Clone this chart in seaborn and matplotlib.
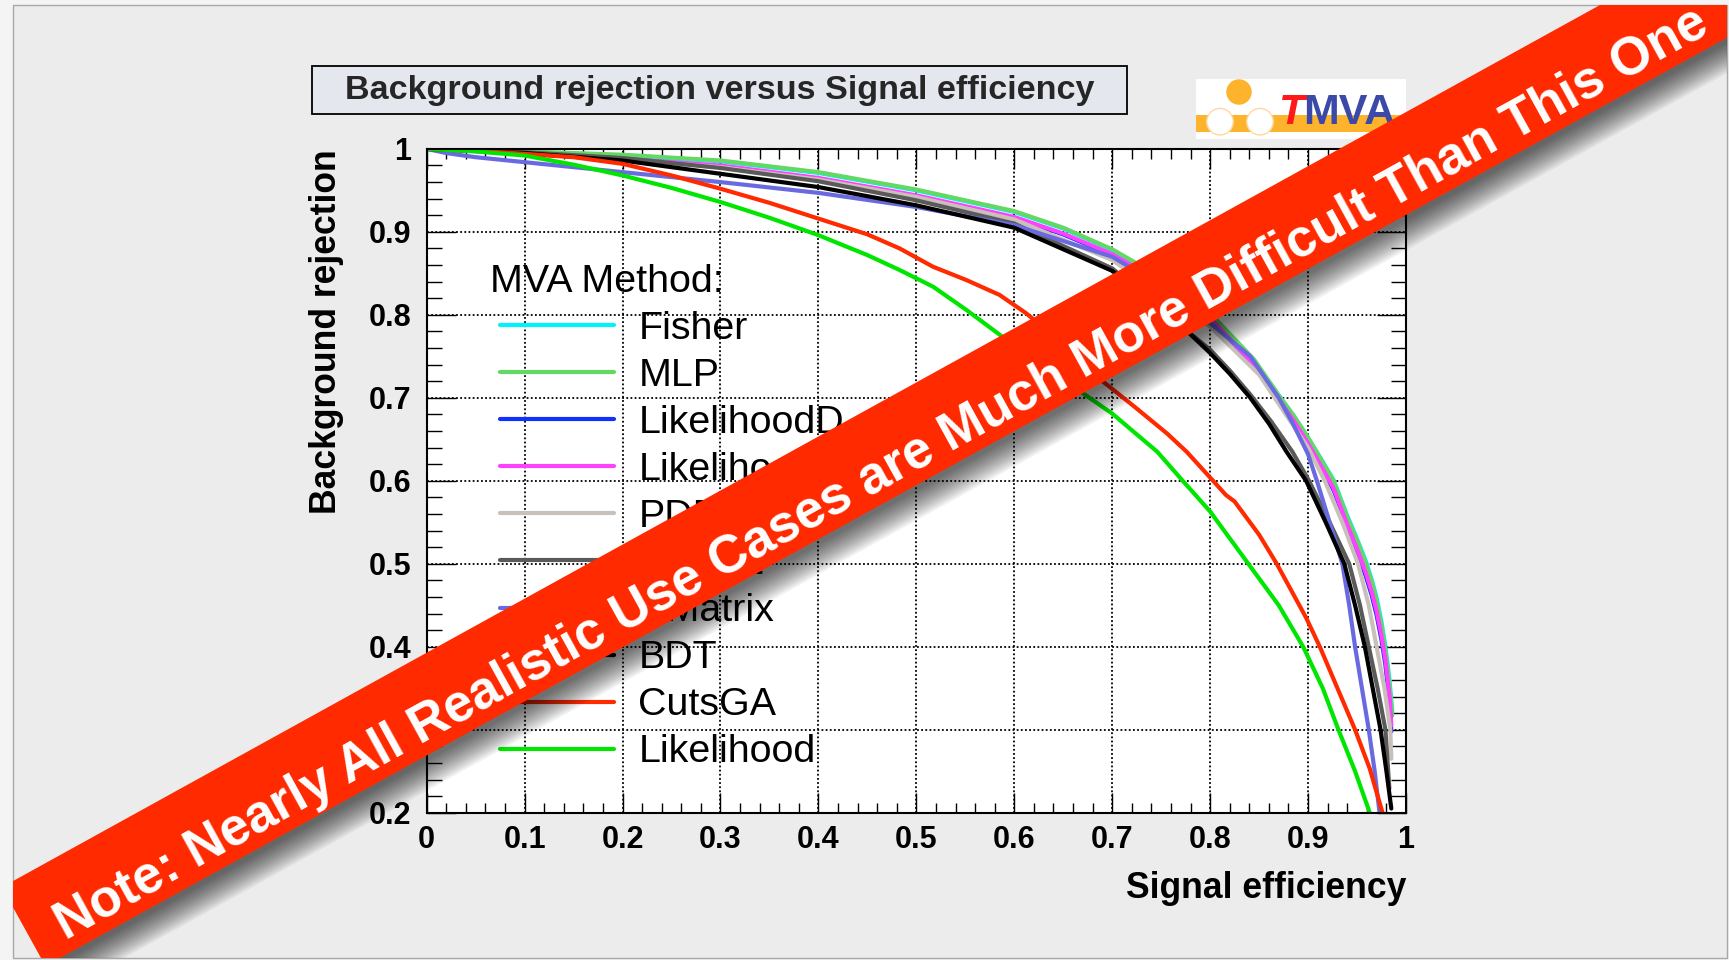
import matplotlib
matplotlib.use("Agg")
import numpy as np
import pandas as pd
import matplotlib.pyplot as plt
import seaborn as sns
from matplotlib.patches import Rectangle, Ellipse, Polygon
from matplotlib.lines import Line2D
from matplotlib.legend_handler import HandlerLine2D
from matplotlib.ticker import MultipleLocator, FuncFormatter

# ---------------------------------------------------------------- data
methods = ["Fisher", "MLP", "LikelihoodD", "LikelihoodPCA", "PDERS",
           "RuleFit", "HMatrix", "BDT", "CutsGA", "Likelihood"]

eff_fisher = [0.0, 0.05, 0.1, 0.2, 0.3, 0.4, 0.5, 0.6, 0.65, 0.7, 0.75, 0.8, 0.845, 0.87, 0.885, 0.9, 0.915, 0.926, 0.94, 0.95, 0.959, 0.965, 0.97, 0.975, 0.979, 0.983, 0.986]
rej_fisher = [1.0, 0.999, 0.996, 0.992, 0.985, 0.971, 0.950, 0.924, 0.904, 0.878, 0.844, 0.801, 0.745, 0.703, 0.679, 0.652, 0.623, 0.601, 0.558, 0.530, 0.503, 0.481, 0.459, 0.430, 0.400, 0.362, 0.322]

eff_mlp = [0.0, 0.05, 0.1, 0.2, 0.3, 0.4, 0.5, 0.6, 0.65, 0.7, 0.75, 0.8, 0.845, 0.87, 0.885, 0.9, 0.915, 0.926, 0.94, 0.95, 0.959, 0.965, 0.97, 0.975, 0.979, 0.983, 0.986]
rej_mlp = [1.0, 0.999, 0.997, 0.993, 0.986, 0.972, 0.951, 0.925, 0.905, 0.879, 0.845, 0.802, 0.746, 0.703, 0.679, 0.652, 0.622, 0.600, 0.556, 0.528, 0.500, 0.478, 0.455, 0.425, 0.395, 0.355, 0.317]

eff_likd = [0.0, 0.05, 0.1, 0.2, 0.3, 0.4, 0.5, 0.6, 0.65, 0.7, 0.75, 0.8, 0.845, 0.87, 0.885, 0.9, 0.915, 0.926, 0.94, 0.95, 0.959, 0.965, 0.97, 0.975, 0.979, 0.983, 0.985]
rej_likd = [1.0, 0.998, 0.994, 0.988, 0.979, 0.964, 0.943, 0.917, 0.897, 0.872, 0.838, 0.795, 0.739, 0.696, 0.671, 0.643, 0.612, 0.589, 0.544, 0.514, 0.485, 0.462, 0.438, 0.408, 0.378, 0.335, 0.298]

eff_likpca = [0.0, 0.05, 0.1, 0.2, 0.3, 0.4, 0.5, 0.6, 0.65, 0.7, 0.75, 0.8, 0.845, 0.87, 0.885, 0.9, 0.915, 0.926, 0.94, 0.95, 0.959, 0.965, 0.97, 0.975, 0.979, 0.983, 0.985]
rej_likpca = [1.0, 0.998, 0.994, 0.988, 0.980, 0.965, 0.944, 0.918, 0.898, 0.873, 0.839, 0.796, 0.740, 0.698, 0.673, 0.645, 0.614, 0.591, 0.547, 0.518, 0.489, 0.466, 0.443, 0.413, 0.384, 0.342, 0.305]

eff_pders = [0.0, 0.1, 0.2, 0.3, 0.4, 0.5, 0.6, 0.7, 0.8, 0.85, 0.9, 0.917, 0.935, 0.951, 0.962, 0.970, 0.978, 0.984, 0.985]
rej_pders = [1.0, 0.994, 0.987, 0.978, 0.963, 0.942, 0.915, 0.866, 0.786, 0.728, 0.640, 0.600, 0.550, 0.500, 0.450, 0.400, 0.350, 0.300, 0.265]

eff_rulefit = [0.0, 0.1, 0.2, 0.3, 0.4, 0.5, 0.6, 0.7, 0.777, 0.8, 0.82, 0.841, 0.862, 0.884, 0.901, 0.922, 0.942, 0.953, 0.962, 0.971, 0.979, 0.983]
rej_rulefit = [1.0, 0.996, 0.989, 0.977, 0.961, 0.938, 0.910, 0.856, 0.780, 0.758, 0.733, 0.704, 0.672, 0.635, 0.600, 0.550, 0.500, 0.450, 0.400, 0.350, 0.300, 0.229]

eff_hmatrix = [0.0, 0.02, 0.05, 0.1, 0.2, 0.3, 0.4, 0.5, 0.6, 0.7, 0.75, 0.8, 0.841, 0.87, 0.885, 0.9, 0.909, 0.922, 0.935, 0.942, 0.948, 0.955, 0.962, 0.968, 0.973]
rej_hmatrix = [1.0, 0.995, 0.990, 0.984, 0.972, 0.960, 0.947, 0.930, 0.908, 0.870, 0.835, 0.790, 0.750, 0.700, 0.668, 0.632, 0.600, 0.550, 0.500, 0.450, 0.400, 0.350, 0.300, 0.250, 0.200]

eff_bdt = [0.0, 0.1, 0.2, 0.3, 0.4, 0.5, 0.6, 0.7, 0.75, 0.8, 0.82, 0.841, 0.86, 0.878, 0.898, 0.918, 0.937, 0.948, 0.958, 0.966, 0.974, 0.980, 0.985]
rej_bdt = [1.0, 0.995, 0.986, 0.970, 0.954, 0.932, 0.905, 0.853, 0.810, 0.754, 0.729, 0.700, 0.669, 0.635, 0.600, 0.550, 0.500, 0.450, 0.400, 0.350, 0.300, 0.250, 0.205]

eff_cutsga = [0.0, 0.05, 0.1, 0.15, 0.2, 0.25, 0.3, 0.35, 0.4, 0.45, 0.483, 0.517, 0.551, 0.585, 0.612, 0.65, 0.673, 0.688, 0.722, 0.756, 0.776, 0.803, 0.816, 0.825, 0.85, 0.868, 0.898, 0.912, 0.93, 0.948, 0.963, 0.976]
rej_cutsga = [1.0, 0.998, 0.994, 0.990, 0.982, 0.968, 0.952, 0.935, 0.916, 0.897, 0.880, 0.858, 0.842, 0.824, 0.802, 0.765, 0.741, 0.722, 0.690, 0.657, 0.635, 0.600, 0.583, 0.575, 0.535, 0.500, 0.435, 0.400, 0.350, 0.300, 0.253, 0.200]

eff_lik = [0.0, 0.05, 0.1, 0.15, 0.2, 0.25, 0.3, 0.35, 0.4, 0.45, 0.483, 0.517, 0.551, 0.592, 0.65, 0.7, 0.746, 0.772, 0.8, 0.839, 0.87, 0.895, 0.915, 0.931, 0.948, 0.963]
rej_lik = [1.0, 0.997, 0.992, 0.981, 0.968, 0.953, 0.936, 0.917, 0.896, 0.872, 0.854, 0.834, 0.806, 0.770, 0.722, 0.681, 0.635, 0.600, 0.563, 0.500, 0.450, 0.400, 0.350, 0.300, 0.250, 0.200]

x_ticks = [0, 0.1, 0.2, 0.3, 0.4, 0.5, 0.6, 0.7, 0.8, 0.9, 1]
y_ticks = [0.2, 0.3, 0.4, 0.5, 0.6, 0.7, 0.8, 0.9, 1]

curves = {
    "Fisher": (eff_fisher, rej_fisher),
    "MLP": (eff_mlp, rej_mlp),
    "LikelihoodD": (eff_likd, rej_likd),
    "LikelihoodPCA": (eff_likpca, rej_likpca),
    "PDERS": (eff_pders, rej_pders),
    "RuleFit": (eff_rulefit, rej_rulefit),
    "HMatrix": (eff_hmatrix, rej_hmatrix),
    "BDT": (eff_bdt, rej_bdt),
    "CutsGA": (eff_cutsga, rej_cutsga),
    "Likelihood": (eff_lik, rej_lik),
}

colors = {
    "Fisher": "#00f2ff",
    "MLP": "#63d963",
    "LikelihoodD": "#1030ff",
    "LikelihoodPCA": "#ff40ff",
    "PDERS": "#c9c1b9",
    "RuleFit": "#5a5a5a",
    "HMatrix": "#6a6ae0",
    "BDT": "#000000",
    "CutsGA": "#ff2a00",
    "Likelihood": "#00e600",
}

df = pd.concat(
    [pd.DataFrame({"eff": e, "rej": r, "method": m}) for m, (e, r) in curves.items()],
    ignore_index=True,
)

# ---------------------------------------------------------------- style
sns.set_theme(style="white")
plt.rcParams["font.family"] = ["Liberation Sans", "DejaVu Sans"]

W, H = 1729, 960


def fx(px):
    return px / W


def fy(py):
    return 1 - py / H


fig = plt.figure(figsize=(W / 100, H / 100), dpi=100)
fig.patch.set_facecolor("#f4f4f4")

# canvas panel
canvas = Rectangle((fx(13), fy(958)), (1727 - 13) / W, (958 - 5) / H,
                   transform=fig.transFigure, fc="#ececec", ec="#a8a8a8",
                   lw=1.0, zorder=-10)
fig.add_artist(canvas)

# title box
fig.add_artist(Rectangle((fx(312), fy(114)), (1127 - 312) / W, (114 - 66) / H,
                         transform=fig.transFigure, fc="#e4e8ee", ec="black",
                         lw=1.3, zorder=2))
fig.text(fx(719.5), fy(91), "Background rejection versus Signal efficiency",
         ha="center", va="center", fontsize=24.6, fontweight="bold", zorder=3)

# ---------------------------------------------------------------- axes
ax = fig.add_axes([fx(426.7), fy(812.7), (1406 - 426.7) / W, (812.7 - 148.9) / H])
ax.set_facecolor("white")

for m in methods:
    sns.lineplot(data=df[df["method"] == m], x="eff", y="rej", color=colors[m],
                 lw=3, label=m, estimator=None, sort=False, ax=ax)

ax.set_xlim(0, 1)
ax.set_ylim(0.2, 1)
ax.set_xticks(x_ticks)
ax.set_yticks(y_ticks)
ax.xaxis.set_minor_locator(MultipleLocator(0.02))
ax.yaxis.set_minor_locator(MultipleLocator(0.02))
fmt = FuncFormatter(lambda v, p: f"{v:g}")
ax.xaxis.set_major_formatter(fmt)
ax.yaxis.set_major_formatter(fmt)

ax.tick_params(axis="x", which="major", direction="in", length=14.5, width=1.0,
               top=True, bottom=True, labelsize=22, pad=9, color="black")
ax.tick_params(axis="x", which="minor", direction="in", length=7.2, width=1.0,
               top=True, bottom=True, color="black")
ax.tick_params(axis="y", which="major", direction="in", length=21, width=1.0,
               left=True, right=True, labelsize=22, pad=11, color="black")
ax.tick_params(axis="y", which="minor", direction="in", length=10.5, width=1.0,
               left=True, right=True, color="black")
plt.setp(ax.get_xticklabels() + ax.get_yticklabels(), fontweight="bold", color="black")

ax.grid(True, which="major", color="black", linestyle=(0, (1, 1.3)), linewidth=1.3)
ax.grid(False, which="minor")
for s in ax.spines.values():
    s.set_color("black")
    s.set_linewidth(1.5)

ax.set_xlabel("Signal efficiency", fontsize=25.6, fontweight="bold", loc="right", color="black")
ax.xaxis.set_label_coords(1.0, -0.088)
ax.set_ylabel("Background rejection", fontsize=25.6, fontweight="bold", loc="top", color="black")
ax.yaxis.set_label_coords(-0.0845, 1.0)

leg = ax.legend(loc="upper left", bbox_to_anchor=(fx(490), fy(264)),
                bbox_transform=fig.transFigure, frameon=False,
                title="MVA Method:", alignment="left",
                fontsize=28.4, title_fontsize=28.4, handlelength=3.14,
                handletextpad=0.62, labelspacing=0.28, borderpad=0,
                borderaxespad=0,
                handler_map={Line2D: HandlerLine2D(xpad=0.25)})
for t in leg.get_texts():
    t.set_color("black")
leg.get_title().set_color("black")

# ---------------------------------------------------------------- TMVA logo
fig.add_artist(Rectangle((fx(1196), fy(139)), 210 / W, 60 / H,
                         transform=fig.transFigure, fc="white", ec="none", zorder=2))
fig.add_artist(Rectangle((fx(1196), fy(132)), 210 / W, 17 / H,
                         transform=fig.transFigure, fc="#fdb42c", ec="none", zorder=2.1))
fig.add_artist(Ellipse((fx(1239), fy(92)), 25.5 / W, 25.5 / H,
                       transform=fig.transFigure, fc="#fdb42c", ec="none", zorder=2.2))
fig.add_artist(Rectangle((fx(1226), fy(113)), 27 / W, 6 / H,
                         transform=fig.transFigure, fc="white", ec="none", zorder=2.2))
for cx in (1220, 1260):
    fig.add_artist(Ellipse((fx(cx), fy(121.7)), 26.5 / W, 26.5 / H,
                           transform=fig.transFigure, fc="white", ec="#ffd9a0",
                           lw=1.0, zorder=2.3))
fig.text(fx(1279), fy(124), "T", color="#ff1a1a", fontsize=31, fontweight="bold",
         fontstyle="italic", ha="left", va="baseline", zorder=3)
fig.text(fx(1303), fy(124), "MVA", color="#3b49a8", fontsize=31, fontweight="bold",
         ha="left", va="baseline", zorder=3)

# ---------------------------------------------------------------- diagonal note banner
theta = np.deg2rad(28.9)
d = np.array([np.cos(theta), np.sin(theta)])
n_up = np.array([-np.sin(theta), np.cos(theta)])
thick = 90.0
length = 2300.0
ul = np.array([1.9, 72.8])            # upper-left corner, pixels from bottom-left
ll = ul - thick * n_up
band = np.array([ul, ll, ll + length * d, ul + length * d])


def to_fig(pts):
    return np.column_stack([pts[:, 0] / W, pts[:, 1] / H])


for j in range(14):
    shift = -(3 + 2.0 * j) * n_up + np.array([4.0, 0.0])
    shade = Polygon(to_fig(band + shift), closed=True, transform=fig.transFigure,
                    fc="black", ec="none", alpha=0.055, zorder=8)
    fig.add_artist(shade)
    shade.set_clip_path(canvas)
ribbon = Polygon(to_fig(band), closed=True, transform=fig.transFigure,
                 fc="#ff2a00", ec="none", zorder=9)
fig.add_artist(ribbon)
ribbon.set_clip_path(canvas)

start = ul + 30.0 * d - 77.0 * n_up
fig.text(start[0] / W, start[1] / H,
         "Note: Nearly All Realistic Use Cases are Much More Difficult Than This One",
         rotation=np.rad2deg(theta), rotation_mode="anchor", ha="left", va="baseline",
         color="white", fontsize=38, fontweight="bold", zorder=10)

fig.savefig("out.png", dpi=100, facecolor=fig.get_facecolor())
